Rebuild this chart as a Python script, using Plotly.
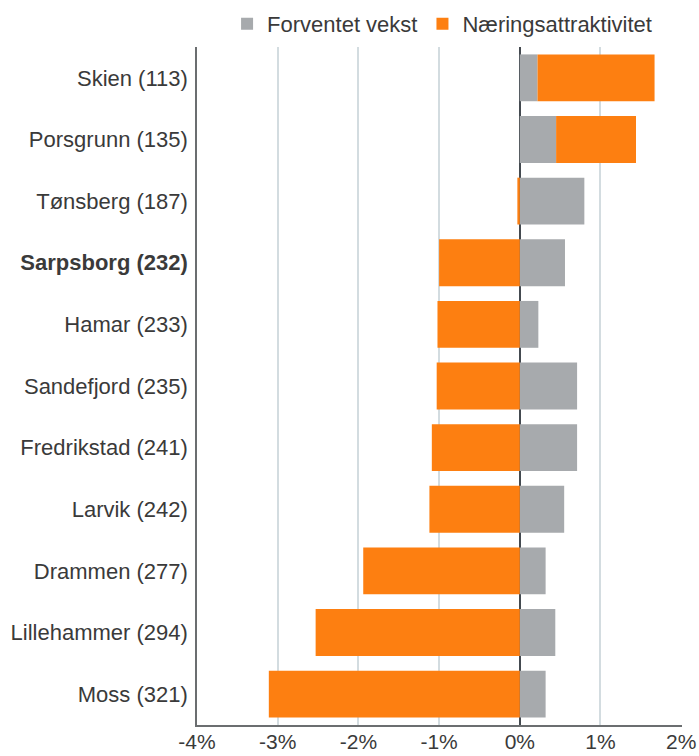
"""
Forventet vekst vs. næringsattraktivitet per by.
"""
import plotly.graph_objects as go

# Categories (top to bottom)
byer = [
    "Skien (113)", "Porsgrunn (135)", "Tønsberg (187)", "Sarpsborg (232)",
    "Hamar (233)", "Sandefjord (235)", "Fredrikstad (241)", "Larvik (242)",
    "Drammen (277)", "Lillehammer (294)", "Moss (321)",
]
forventet_vekst = [0.22, 0.45, 0.80, 0.56, 0.23, 0.71, 0.71, 0.55, 0.32, 0.44, 0.32]
naeringsattraktivitet = [1.45, 0.99, -0.03, -1.00, -1.02, -1.03, -1.09, -1.12, -1.94, -2.53, -3.11]

x_ticks = [-4, -3, -2, -1, 0, 1, 2]
x_ticklabels = ["-4%", "-3%", "-2%", "-1%", "0%", "1%", "2%"]
fremhevet = "Sarpsborg (232)"

GRAY = "#a7aaad"
ORANGE = "#fd7f11"
TEXT = "#3a3a3a"
FONT = "Liberation Sans, Arial, sans-serif"

fig = go.Figure()
fig.add_trace(go.Bar(
    name="Forventet vekst", y=byer, x=forventet_vekst, orientation="h",
    marker=dict(color=GRAY, line=dict(width=0)),
))
fig.add_trace(go.Bar(
    name="Næringsattraktivitet", y=byer, x=naeringsattraktivitet, orientation="h",
    marker=dict(color=ORANGE, line=dict(width=0)),
))

ticktext = [f"<b>{b}</b>" if b == fremhevet else b for b in byer]

fig.update_layout(
    barmode="relative",
    bargap=0.24,
    width=699, height=756,
    margin=dict(l=197, r=17, t=47, b=31, autoexpand=False),
    paper_bgcolor="white", plot_bgcolor="white",
    font=dict(family=FONT, size=22, color=TEXT),
    showlegend=True,
    legend=dict(
        orientation="h", x=0.062, y=1.034, xanchor="left", yanchor="middle",
        font=dict(size=22, color=TEXT), itemwidth=30,
        traceorder="normal",
    ),
    xaxis=dict(
        range=[-4, 2.01], tickvals=x_ticks, ticktext=x_ticklabels,
        showgrid=True, gridcolor="#d3dce0", gridwidth=1.5,
        zeroline=True, zerolinecolor="#444a50", zerolinewidth=1.5,
        showline=True, linecolor="#6b6e70", linewidth=1.5,
        ticks="", ticklabelstandoff=-3, tickfont=dict(size=21, color=TEXT),
        fixedrange=True,
    ),
    yaxis=dict(
        categoryorder="array", categoryarray=byer, autorange="reversed",
        tickvals=byer, ticktext=ticktext,
        showline=True, linecolor="#6b6e70", linewidth=1.5,
        ticks="", ticklabelstandoff=3, tickfont=dict(size=22, color=TEXT),
        showgrid=False,
    ),
)

# the page body has a default 8px margin; remove it so the figure sits at 0,0
fig.write_html("out.html", config={"displayModeBar": False},
               post_script="document.body.style.margin='0';")
